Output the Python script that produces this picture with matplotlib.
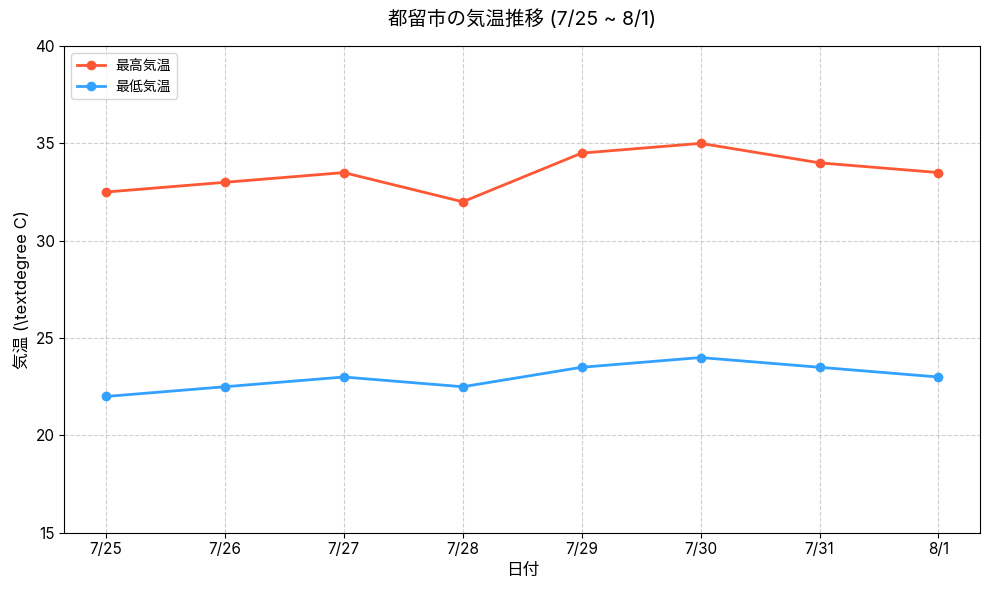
import matplotlib
matplotlib.use('Agg')
import matplotlib.pyplot as plt

plt.rcParams['font.family'] = ['Inter', 'Noto Sans CJK JP', 'DejaVu Sans']

# data
dates = ['7/25', '7/26', '7/27', '7/28', '7/29', '7/30', '7/31', '8/1']
temp_max = [32.5, 33.0, 33.5, 32.0, 34.5, 35.0, 34.0, 33.5]
temp_min = [22.0, 22.5, 23.0, 22.5, 23.5, 24.0, 23.5, 23.0]

fig, ax = plt.subplots(figsize=(9.89, 5.9), dpi=100)
fig.subplots_adjust(left=0.065, right=0.991, top=0.922, bottom=0.097)

ax.plot(dates, temp_max, marker='o', color='#FF5733', linewidth=2, label='最高気温')
ax.plot(dates, temp_min, marker='o', color='#33A1FF', linewidth=2, label='最低気温')

ax.set_title('都留市の気温推移 (7/25 ~ 8/1)', fontsize=14, pad=15)
ax.set_xlabel('日付', fontsize=12)
ax.set_ylabel(r'気温 (\textdegree C)', fontsize=12)
ax.set_ylim(15, 40)
ax.tick_params(labelsize=11)
ax.grid(True, linestyle='--', alpha=0.6)
ax.legend(loc='upper left')

fig.savefig('out.png')
